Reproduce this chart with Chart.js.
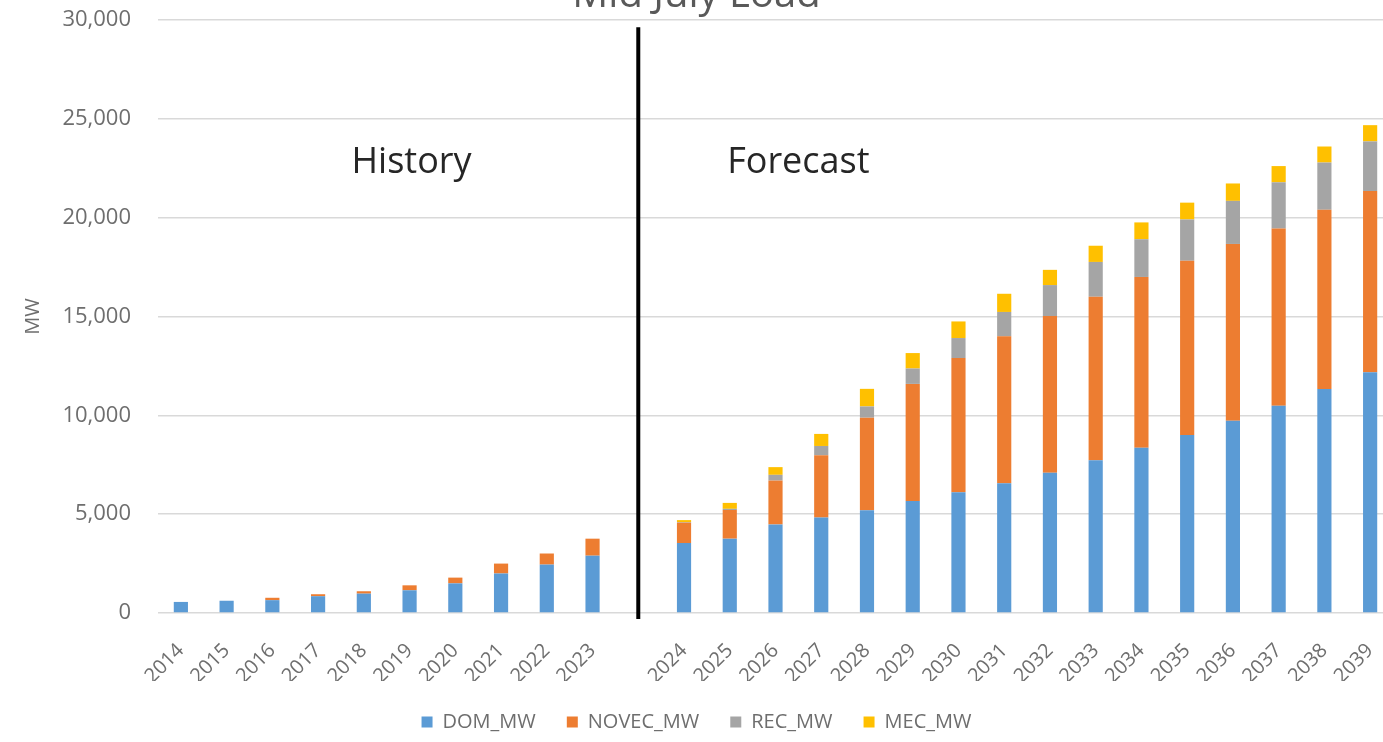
<!DOCTYPE html>
<html>
<head>
<meta charset="utf-8">
<script src="https://cdn.jsdelivr.net/npm/chart.js@4.4.1/dist/chart.umd.min.js"></script>
<style>
  html, body { margin: 0; padding: 0; background: #fff; overflow: hidden; }
  #wrap { position: absolute; left: 0; top: -28px; width: 1396px; height: 770px; }
</style>
</head>
<body>
<div id="wrap"><canvas id="loadChart"></canvas></div>
<script>
// Data: one slot is left blank between 2023 and 2024, where the divider line sits.
const years = ["2014", "2015", "2016", "2017", "2018", "2019", "2020", "2021", "2022", "2023", "",
               "2024", "2025", "2026", "2027", "2028", "2029", "2030", "2031", "2032", "2033",
               "2034", "2035", "2036", "2037", "2038", "2039"];

const domMW   = [560, 620, 650, 850, 980, 1150, 1500, 2000, 2450, 2900, null,
                 3540, 3760, 4480, 4830, 5200, 5660, 6110, 6560, 7090, 7730, 8360, 9000, 9730, 10490, 11330, 12180];
const novecMW = [0, 0, 120, 100, 120, 250, 290, 500, 560, 860, null,
                 1030, 1450, 2220, 3150, 4680, 5930, 6790, 7440, 7930, 8270, 8640, 8820, 8940, 8960, 9070, 9170];
const recMW   = [0, 0, 0, 0, 0, 0, 0, 0, 0, 0, null,
                 30, 60, 290, 470, 570, 780, 1010, 1230, 1570, 1760, 1910, 2090, 2180, 2340, 2390, 2510];
const mecMW   = [0, 0, 0, 0, 0, 0, 0, 0, 0, 0, null,
                 100, 300, 390, 610, 890, 780, 840, 920, 770, 820, 850, 850, 880, 820, 810, 820];

const yTicks = [0, 5000, 10000, 15000, 20000, 25000, 30000];

const FONT      = "'Open Sans', 'DejaVu Sans', sans-serif";
const TEXT_GREY = "#6e6e6e";
const GRID_GREY = "#d9d9d9";

// Divider index and the two section labels
const DIVIDER_INDEX = 10;
const DIVIDER_TOP   = 29630;

const annotations = {
  id: "annotations",
  afterDatasetsDraw(chart) {
    const ctx = chart.ctx;
    const x = chart.scales.x;
    const y = chart.scales.y;

    //black divider between history and forecast
    const lx = x.getPixelForValue(DIVIDER_INDEX);
    ctx.save();
    ctx.strokeStyle = "#000";
    ctx.lineWidth = 4;
    ctx.beginPath();
    ctx.moveTo(lx, y.getPixelForValue(DIVIDER_TOP));
    ctx.lineTo(lx, y.getPixelForValue(0) + 6);
    ctx.stroke();

    ctx.fillStyle = "#262626";
    ctx.font = "36px " + FONT;
    ctx.textAlign = "center";
    ctx.textBaseline = "alphabetic";
    ctx.fillText("History", x.getPixelForValue(5) + 2, y.getPixelForValue(22280));
    ctx.fillText("Forecast", (x.getPixelForValue(13) + x.getPixelForValue(14)) / 2, y.getPixelForValue(22280));
    ctx.restore();
  }
};

new Chart(document.getElementById("loadChart"), {
  type: "bar",
  data: {
    labels: years,
    datasets: [
      { label: "DOM_MW",   data: domMW,   backgroundColor: "#5b9bd5" },
      { label: "NOVEC_MW", data: novecMW, backgroundColor: "#ed7d31" },
      { label: "REC_MW",   data: recMW,   backgroundColor: "#a5a5a5" },
      { label: "MEC_MW",   data: mecMW,   backgroundColor: "#ffc000" },
    ],
  },
  options: {
    responsive: true,
    maintainAspectRatio: false,
    animation: false,
    datasets: { bar: { barPercentage: 0.31, categoryPercentage: 1 } },
    layout: { padding: { left: 0, right: 3, top: 0, bottom: 0 } },
    plugins: {
      title: {
        display: true,
        text: "Mid July Load",
        color: "#595959",
        font: { family: FONT, size: 40, weight: "normal" },
        padding: { top: 0, bottom: 0 },
      },
      legend: {
        position: "bottom",
        labels: {
          color: TEXT_GREY,
          font: { family: FONT, size: 20 },
          boxWidth: 11,
          boxHeight: 11,
          padding: 31,
        },
      },
      tooltip: { enabled: false },
    },
    scales: {
      x: {
        stacked: true,
        grid: { display: false },
        border: { display: false },
        ticks: {
          color: TEXT_GREY,
          font: { family: FONT, size: 20 },
          minRotation: 45,
          maxRotation: 45,
          autoSkip: false,
          padding: 18,
        },
        afterFit(scale) {
          scale.height = 68;
          //let the last rotated label run off the edge like the original
          scale.paddingLeft = 0;
          scale.paddingRight = 0;
        },
      },
      y: {
        stacked: true,
        min: 0,
        max: 30000,
        afterBuildTicks(scale) { scale.ticks = yTicks.map(v => ({ value: v })); },
        grid: { color: GRID_GREY, lineWidth: 1.5, drawTicks: false },
        border: { display: false },
        ticks: {
          color: TEXT_GREY,
          font: { family: FONT, size: 22 },
          padding: 27,
          callback: v => v.toLocaleString("en-US"),
        },
        title: {
          display: true,
          text: "MW",
          color: TEXT_GREY,
          font: { family: FONT, size: 20 },
          padding: { top: 21, bottom: 0 },
        },
        afterFit(scale) { scale.width = 158; },
      },
    },
  },
  plugins: [annotations],
});
</script>
</body>
</html>
